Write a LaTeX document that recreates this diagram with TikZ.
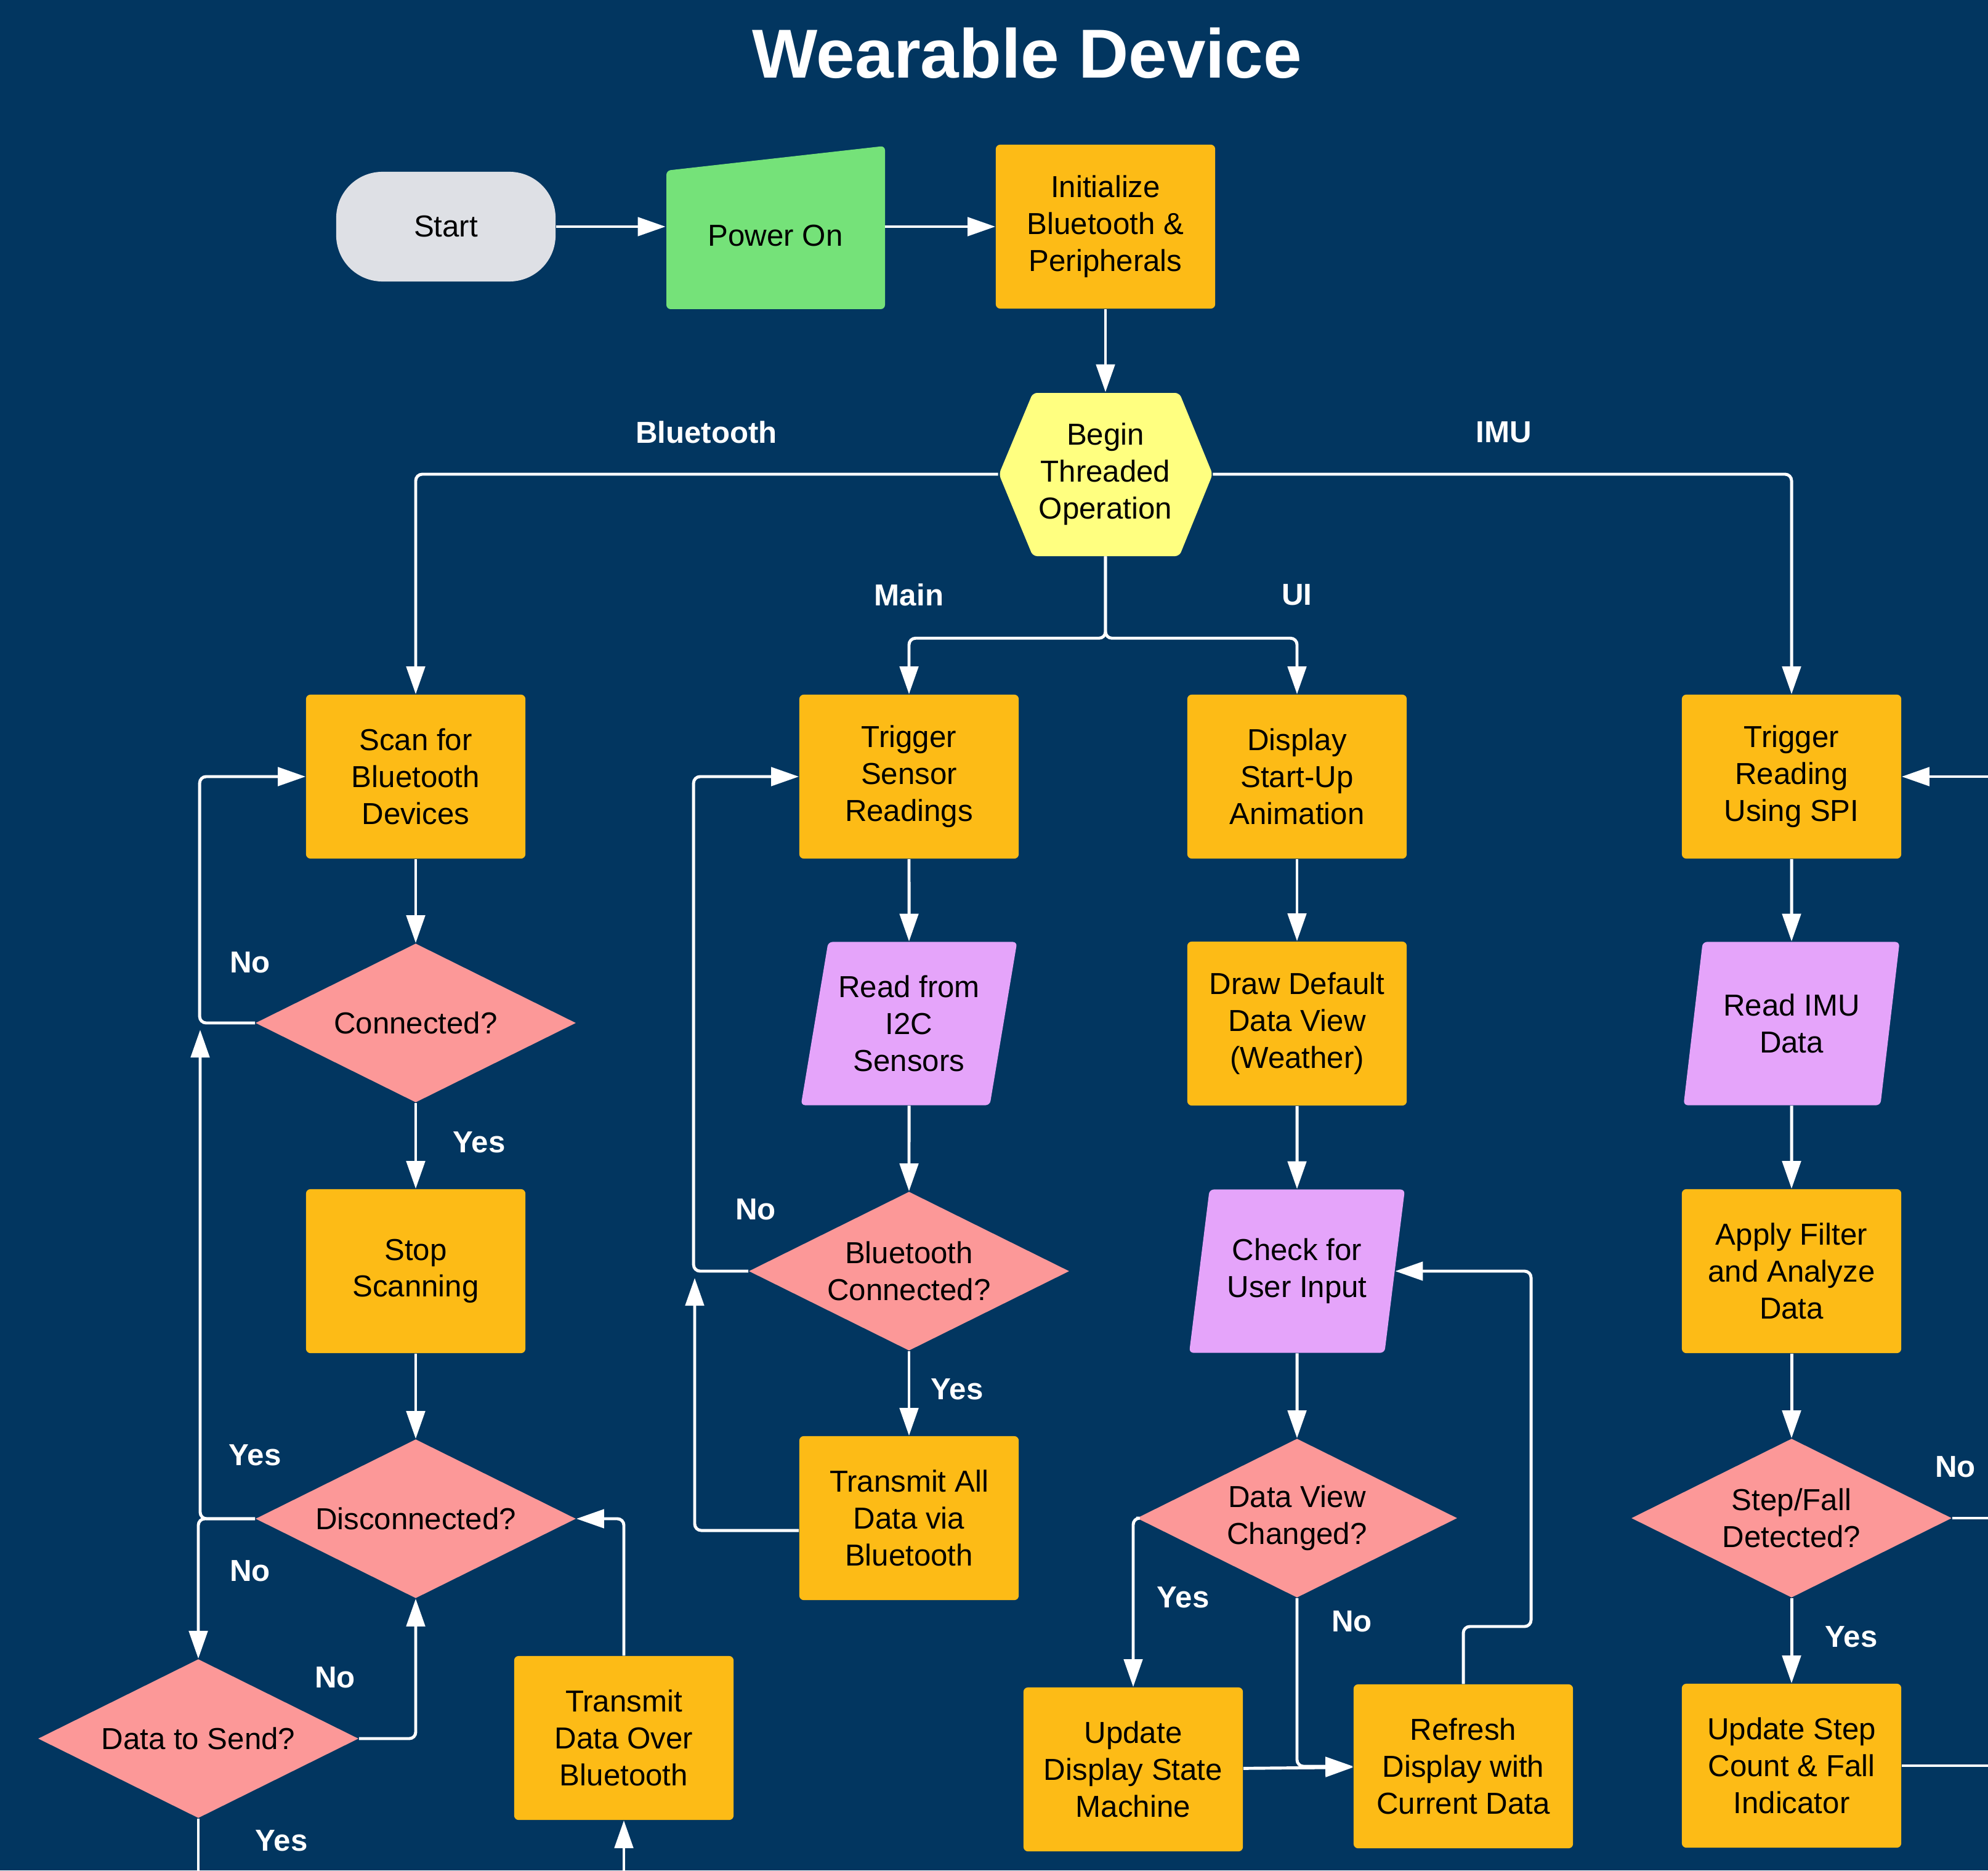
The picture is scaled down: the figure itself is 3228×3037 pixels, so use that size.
\documentclass[tikz,border=0pt]{standalone}
\usepackage{fontspec}
\setmainfont{Liberation Sans}
\usetikzlibrary{shapes.geometric,arrows.meta}

\definecolor{navy}{RGB}{2,54,96}
\definecolor{boxorange}{RGB}{253,187,22}
\definecolor{decpink}{RGB}{252,152,152}
\definecolor{iopurple}{RGB}{229,164,250}
\definecolor{pwrgreen}{RGB}{117,226,121}
\definecolor{startgray}{RGB}{222,224,229}
\definecolor{hexyellow}{RGB}{255,255,128}

\tikzset{
  txt/.style={font=\fontsize{14}{17}\selectfont, align=center, text=black, inner sep=0pt},
  proc/.style={txt, rectangle, rounded corners=2pt, fill=boxorange, minimum width=3.56cm, minimum height=2.66cm},
  decide/.style={txt, diamond, aspect=2, fill=decpink, minimum width=5.2cm, minimum height=2.58cm},
  io/.style={txt, trapezium, trapezium left angle=76, trapezium right angle=104, trapezium stretches=true,
    rounded corners=2pt, fill=iopurple, minimum width=3.52cm, minimum height=2.65cm},
  lbl/.style={font=\bfseries\fontsize{14}{17}\selectfont, text=white},
  line/.style={draw=white, line width=1.4pt, rounded corners=3pt},
  flow/.style={line, -{Triangle[length=4.5mm, width=3mm]}},
}

\begin{document}
\begin{tikzpicture}[x=0.01cm, y=-0.01cm]
\useasboundingbox (0,0) rectangle (3228,3037);
\fill[navy] (0,0) rectangle (3228,3037);

\node[font=\bfseries\fontsize{32}{38}\selectfont, text=white] (title) at (1668,86) {Wearable Device};

% top row
\node[txt, fill=startgray, rounded corners=0.75cm, minimum width=3.56cm, minimum height=1.78cm] (start) at (724,368) {Start};
\fill[pwrgreen, rounded corners=2pt] (1082,277) -- (1437,237) -- (1437,502) -- (1082,502) -- cycle;
\node[txt, minimum width=3.55cm, minimum height=2.2cm] (power) at (1259,383) {Power On};
\node[proc] (init) at (1795,368) {Initialize\\Bluetooth \&\\Peripherals};
\fill[hexyellow, rounded corners=2pt] (1622,770) -- (1677,638) -- (1915,638) -- (1969,770) -- (1915,903) -- (1677,903) -- cycle;
\node[txt, minimum width=3.47cm, minimum height=2.65cm] (begin) at (1795,770) {Begin\\Threaded\\Operation};

% bluetooth thread
\node[proc] (scan) at (675,1261) {Scan for\\Bluetooth\\Devices};
\node[decide] (conn) at (675,1661) {Connected?};
\node[proc] (stop) at (675,2064) {Stop\\Scanning};
\node[decide] (disc) at (675,2466) {Disconnected?};
\node[decide] (send) at (322,2823) {Data to Send?};
\node[proc] (txbt) at (1013,2822) {Transmit\\Data Over\\Bluetooth};

% main thread
\node[proc] (trig) at (1476,1261) {Trigger\\Sensor\\Readings};
\node[io] (i2c) at (1476,1662) {Read from\\I2C\\Sensors};
\node[decide] (btc) at (1476,2064) {Bluetooth\\Connected?};
\node[proc] (txall) at (1476,2465) {Transmit All\\Data via\\Bluetooth};

% ui thread
\node[proc] (anim) at (2106,1261) {Display\\Start-Up\\Animation};
\node[proc] (drawdef) at (2106,1662) {Draw Default\\Data View\\(Weather)};
\node[io] (chk) at (2106,2064) {Check for\\User Input};
\node[decide] (dvc) at (2106,2465) {Data View\\Changed?};
\node[proc] (upd) at (1840,2873) {Update\\Display State\\Machine};
\node[proc] (refr) at (2376,2868) {Refresh\\Display with\\Current Data};

% imu thread
\node[proc] (spi) at (2909,1261) {Trigger\\Reading\\Using SPI};
\node[io] (imu) at (2909,1662) {Read IMU\\Data};
\node[proc] (filt) at (2909,2064) {Apply Filter\\and Analyze\\Data};
\node[decide] (step) at (2909,2465) {Step/Fall\\Detected?};
\node[proc] (cnt) at (2909,2867) {Update Step\\Count \& Fall\\Indicator};

% free ends
\coordinate (btjoin) at (325,1672);
\coordinate (mainjoin) at (1128,2075);
\coordinate (uijoin) at (2486,2641);
\coordinate (sendOut) at (322,3045);
\coordinate (txbtIn) at (1013,3045);
\coordinate (spiIn) at (3240,1261);
\coordinate (stepOut) at (3240,2465);
\coordinate (cntOut) at (3240,2867);

% connectors
\draw[flow] (start) -- (start -| power.west);
\draw[flow] (power.east |- init) -- (init);
\draw[flow] (init) -- (begin);
\draw[flow] (begin.west) -| (scan);
\draw[flow] (begin.east) -| (spi);
\draw[flow] (begin.south) -- ++(0,133) -| (trig);
\draw[flow] (begin.south) -- ++(0,133) -| (anim);

\draw[flow] (scan) -- (conn);
\draw[flow] (conn.west) -- ++(-90,0) |- (scan.west);
\draw[flow] (conn) -- (stop);
\draw[flow] (stop) -- (disc);
\draw[flow] (disc.west) -| (btjoin);
\draw[flow] (disc.west) -| (send);
\draw[flow] (send.east) -| (disc.south);
\draw[line] (send.south) -- (sendOut);
\draw[flow] (txbt.north) |- (disc.east);
\draw[flow] (txbtIn) -- (txbt.south);

\draw[flow] (trig) -- (i2c);
\draw[flow] (i2c) -- (btc);
\draw[flow] (btc.west) -- ++(-89,0) |- (trig.west);
\draw[flow] (btc) -- (txall);
\draw[flow] ([yshift=-0.2cm]txall.west) -| (mainjoin);

\draw[flow] (anim) -- (drawdef);
\draw[flow] (drawdef) -- (chk);
\draw[flow] (chk) -- (dvc);
\draw[flow] (dvc.west) -| (upd);
\draw[flow] (dvc.south) |- (refr.west);
\draw[flow] (upd) -- (refr);
\draw[flow] (refr.north) |- (uijoin) |- (chk.east);

\draw[flow] (spiIn) -- (spi.east);
\draw[flow] (spi) -- (imu);
\draw[flow] (imu) -- (filt);
\draw[flow] (filt) -- (step);
\draw[flow] (step) -- (cnt);
\draw[line] (step.east) -- (stepOut);
\draw[line] (cnt.east) -- (cntOut);

% labels
\node[lbl] (lbBt) at (1147,702) {Bluetooth};
\node[lbl] (lbImu) at (2442,702) {IMU};
\node[lbl] (lbMain) at (1476,966) {Main};
\node[lbl] (lbUi) at (2106,966) {UI};
\node[lbl] (connNo) at (406,1563) {No};
\node[lbl] (connYes) at (778,1855) {Yes};
\node[lbl] (discYes) at (414,2363) {Yes};
\node[lbl] (discNo) at (406,2551) {No};
\node[lbl] (sendNo) at (544,2724) {No};
\node[lbl] (sendYes) at (457,2989) {Yes};
\node[lbl] (btcNo) at (1227,1964) {No};
\node[lbl] (btcYes) at (1554,2256) {Yes};
\node[lbl] (dvcYes) at (1921,2594) {Yes};
\node[lbl] (dvcNo) at (2195,2633) {No};
\node[lbl] (stepYes) at (3006,2658) {Yes};
\node[lbl] (stepNo) at (3175,2382) {No};
\end{tikzpicture}
\end{document}
